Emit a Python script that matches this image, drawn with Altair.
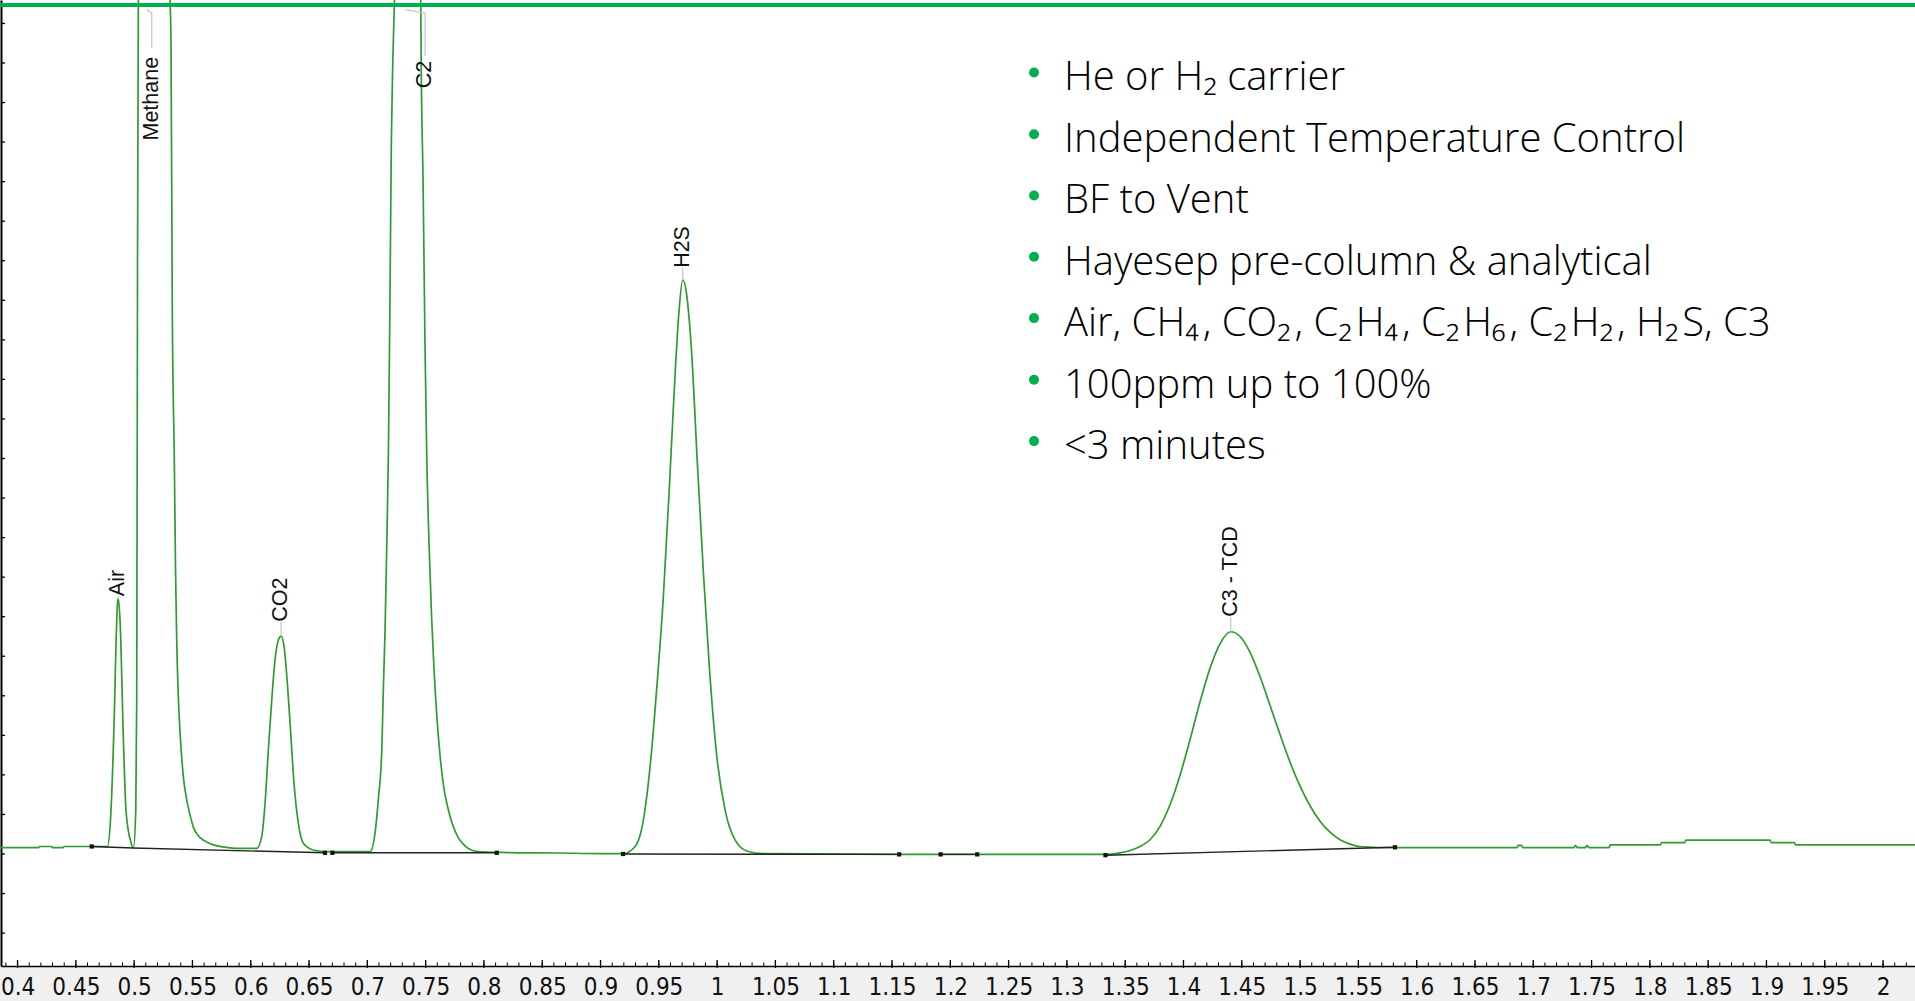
import altair as alt
import pandas as pd

# ---- canvas / scale set-up -------------------------------------------------
PLOT_W, PLOT_H = 1914, 966
X_DOMAIN = [0.3858, 2.0274]          # retention time, min
Y_DOMAIN = [-28.32, 215.93]          # detector signal

# ---- detector trace (retention time in min, signal) ------------------------
TRACE_TIME = [
    0.3858, 0.418, 0.419, 0.429, 0.430, 0.439, 0.440, 0.4770,
    0.4797, 0.4832, 0.4846, 0.4860, 0.4865, 0.4880, 0.4908, 0.4931, 0.4974, 0.4994,
    0.5014, 0.5022, 0.5029, 0.5036, 0.5170, 0.5308, 0.5316, 0.5327, 0.5345, 0.5355,
    0.5365, 0.5379, 0.5394, 0.5422, 0.5451, 0.5479, 0.5508, 0.5551, 0.5594, 0.5679,
    0.5765, 0.5908, 0.6051,
    0.6094, 0.6123, 0.6151, 0.6180, 0.6208, 0.6237, 0.6260, 0.6286, 0.6314, 0.6343,
    0.6371, 0.6408, 0.6451, 0.6537, 0.6652, 0.7023,
    0.7066, 0.7094, 0.7124, 0.7137, 0.7152, 0.7166, 0.7181, 0.7194, 0.7206, 0.7218,
    0.7233, 0.7341, 0.7458, 0.7462, 0.7478, 0.7494, 0.7510, 0.7531, 0.7551, 0.7573,
    0.7598, 0.7625, 0.7655, 0.7688, 0.7730, 0.7782, 0.7840, 0.7938, 0.8138, 0.8653,
    0.8996,
    0.9192, 0.9297, 0.9370, 0.9433, 0.9485, 0.9538, 0.9590, 0.9632, 0.9673, 0.9705,
    0.9737, 0.9779, 0.9831, 0.9883, 0.9936, 0.9998, 1.0072, 1.0155, 1.0260, 1.0396,
    1.1570, 1.3284, 1.3328, 1.3456, 1.3542, 1.3627, 1.3713, 1.3799, 1.3885, 1.3971,
    1.4057, 1.4142, 1.4228, 1.4314, 1.4405, 1.4485, 1.4571, 1.4657, 1.4742, 1.4828,
    1.4914, 1.4999, 1.5085, 1.5171, 1.5257, 1.5343, 1.5429, 1.5514, 1.5814,
    1.686, 1.687, 1.690, 1.691, 1.735, 1.736, 1.738, 1.745, 1.746, 1.748,
    1.765, 1.766, 1.809, 1.810, 1.830, 1.831, 1.903, 1.904, 1.924, 1.925, 2.0274,
]
TRACE_SIGNAL = [
    1.6, 1.6, 1.9, 1.9, 1.6, 1.6, 1.9, 1.9,
    8.6, 37.7, 54.9, 64.2, 64.5, 58.4, 28.8, 10.6, 2.8, 1.5,
    11.1, 38.9, 150.0, 216.0, 420.0, 216.0, 205.4, 138.3, 98.4, 71.8,
    54.1, 39.7, 30.6, 19.5, 13.7, 9.9, 6.8, 4.6, 3.5, 2.3,
    1.8, 1.4, 1.4,
    4.4, 12.9, 26.3, 38.9, 49.1, 54.1, 55.1, 52.4, 43.2, 30.5,
    17.9, 7.8, 2.7, 1.0, 0.6, 0.6,
    5.3, 13.7, 26.3, 41.5, 56.6, 76.9, 102.1, 140.0, 180.0, 200.0,
    216.0, 330.0, 216.0, 200.0, 170.0, 130.0, 100.0, 77.0, 60.0, 46.0,
    34.0, 24.5, 17.0, 12.0, 7.5, 4.0, 2.0, 0.7, 0.4, 0.25,
    0.1,
    0.1, 1.9, 9.0, 24.5, 43.0, 64.6, 92.4, 117.1, 137.2, 145.2,
    141.8, 127.9, 98.6, 70.8, 46.1, 24.5, 10.6, 3.5, 0.7, 0.1,
    -0.1, -0.1, -0.1, 0.3, 0.9, 1.9, 3.6, 7.0, 12.5, 20.0,
    29.0, 38.5, 47.0, 53.2, 56.2, 55.0, 51.0, 44.8, 37.6, 30.2,
    23.2, 17.2, 12.2, 8.3, 5.5, 3.6, 2.5, 1.9, 1.6,
    1.6, 2.2, 2.2, 1.6, 1.6, 2.2, 1.6, 1.6, 2.2, 1.6,
    1.6, 2.3, 2.3, 2.9, 2.9, 3.5, 3.5, 2.9, 2.9, 2.3, 2.3,
]

# ---- integration baselines (segment id, time, signal) -----------------------
BASE_SEG = [1, 1, 2, 2, 3, 3, 4, 4, 5, 5, 6, 6]
BASE_TIME = [0.4636, 0.4994, 0.4994, 0.6637, 0.6700, 0.8110,
             0.9193, 1.1561, 1.1917, 1.2231, 1.3331, 1.5814]
BASE_SIGNAL = [1.9, 1.5, 1.5, 0.3, 0.3, 0.3, 0.0, -0.1, -0.1, -0.1, -0.3, 1.7]
MARK_TIME = [0.4636, 0.6637, 0.6700, 0.8110, 0.9193, 1.1561, 1.1917, 1.2231, 1.3331, 1.5814]
MARK_SIGNAL = [1.9, 0.3, 0.3, 0.3, 0.0, -0.1, -0.1, -0.1, -0.3, 1.7]

# ---- peak names -------------------------------------------------------------
PEAK_NAMES = ["Air", "Methane", "CO2", "C2", "H2S", "C3 - TCD"]
LABEL_TIME = [0.4865, 0.5151, 0.6260, 0.7495, 0.9705, 1.4405]
LABEL_SIGNAL = [65.2, 180.4, 58.7, 193.6, 148.2, 60.0]

LEADER_PEAK = ["Air", "Air", "Methane", "Methane", "Methane", "CO2", "CO2",
               "C2", "C2", "C2", "H2S", "H2S", "C3", "C3"]
LEADER_TIME = [0.4865, 0.4865, 0.5151, 0.5151, 0.5108, 0.6260, 0.6260,
               0.7495, 0.7495, 0.7323, 0.9705, 0.9705, 1.4405, 1.4405]
LEADER_SIGNAL = [64.5, 65.2, 203.8, 212.6, 213.5, 55.1, 58.7,
                 201.8, 212.6, 213.5, 145.2, 148.2, 56.2, 60.0]

# ---- feature list -----------------------------------------------------------
HS = "\u200a"   # hair space after subscripts
FEATURES = [
    "He or H\u2082 carrier",
    "Independent Temperature Control",
    "BF to Vent",
    "Hayesep pre-column & analytical",
    f"Air, CH\u2084{HS}, CO\u2082{HS}, C\u2082{HS}H\u2084{HS}, C\u2082{HS}H\u2086{HS}, "
    f"C\u2082{HS}H\u2082{HS}, H\u2082{HS}S, C3",
    "100ppm up to 100%",
    "<3 minutes",
]
FEATURE_SIGNAL = [193.1, 177.5, 162.0, 146.5, 131.0, 115.4, 99.9]
FEATURE_TIME = 1.2975
BULLET_TIME = 1.2718
BULLET_RAISE = 4.5

# ---- axis ticks -------------------------------------------------------------
X_MAJOR = [round(0.40 + 0.05 * i, 2) for i in range(33)]
X_MINOR = [round(0.39 + 0.01 * i, 2) for i in range(164)]
Y_TICKS = list(range(-20, 220, 10))

GREEN = "#2f9c2f"
BRIGHT = "#00b050"


def xq(field="t", axis=False):
    kw = {}
    if axis:
        kw["axis"] = alt.Axis(
            values=X_MAJOR, format="~g", title=None, grid=False, ticks=False,
            labelFont="Liberation Sans Narrow, DejaVu Sans Condensed, sans-serif",
            labelFontSize=24, labelColor="#111", labelPadding=9,
            labelFlush=False, labelOverlap=False,
            domainColor="#000", domainWidth=1.5,
        )
    return alt.X(f"{field}:Q", scale=alt.Scale(domain=X_DOMAIN, nice=False, zero=False), **kw)


def yq(field="s", axis=False):
    kw = {}
    if axis:
        kw["axis"] = alt.Axis(labels=False, ticks=False, grid=False, title=None,
                              domainColor="#000", domainWidth=2)
    return alt.Y(f"{field}:Q", scale=alt.Scale(domain=Y_DOMAIN, nice=False, zero=False), **kw)


trace_df = pd.DataFrame({"t": TRACE_TIME, "s": TRACE_SIGNAL})
trace = alt.Chart(trace_df).mark_line(
    color=GREEN, strokeWidth=1.7, clip=True, interpolate="monotone"
).encode(x=xq(axis=True), y=yq(axis=True))

base_df = pd.DataFrame({"seg": BASE_SEG, "t": BASE_TIME, "s": BASE_SIGNAL,
                        "i": list(range(len(BASE_SEG)))})
baselines = alt.Chart(base_df).mark_line(color="#222", strokeWidth=1.4).encode(
    x=xq(), y=yq(), detail="seg:N", order="i:Q")

mark_df = pd.DataFrame({"t": MARK_TIME, "s": MARK_SIGNAL})
markers = alt.Chart(mark_df).mark_point(
    shape="square", size=18, filled=True, color="#111", opacity=1
).encode(x=xq(), y=yq())

lead_df = pd.DataFrame({"peak": LEADER_PEAK, "t": LEADER_TIME, "s": LEADER_SIGNAL,
                        "i": list(range(len(LEADER_PEAK)))})
leaders = alt.Chart(lead_df).mark_line(color="#c4c4c4", strokeWidth=1.2).encode(
    x=xq(), y=yq(), detail="peak:N", order="i:Q")

lab_df = pd.DataFrame({"name": PEAK_NAMES, "t": LABEL_TIME, "s": LABEL_SIGNAL})
labels = alt.Chart(lab_df).mark_text(
    angle=270, align="left", baseline="middle",
    font="Liberation Sans, Arial, sans-serif", fontSize=21.5, color="#111"
).encode(x=xq(), y=yq(), text="name:N")

feat_df = pd.DataFrame({"txt": FEATURES, "t": [FEATURE_TIME] * len(FEATURES),
                        "s": FEATURE_SIGNAL})
features = alt.Chart(feat_df).mark_text(
    align="left", baseline="alphabetic", font="Open Sans", fontSize=40,
    fontWeight=300, color="#000"
).encode(x=xq(), y=yq(), text="txt:N")

bul_df = pd.DataFrame({"t": [BULLET_TIME] * len(FEATURES),
                       "s": [v + BULLET_RAISE for v in FEATURE_SIGNAL]})
bullets = alt.Chart(bul_df).mark_point(
    shape="circle", size=100, filled=True, color=BRIGHT, opacity=1
).encode(x=xq(), y=yq())

ytick_df = pd.DataFrame({"s": Y_TICKS})
yticks = alt.Chart(ytick_df).mark_rule(color="#000", strokeWidth=1.3).encode(
    y=yq(), x=alt.value(0), x2=alt.value(4))

xmaj_df = pd.DataFrame({"t": X_MAJOR})
xmajor = alt.Chart(xmaj_df).mark_rule(color="#000", strokeWidth=1.3).encode(
    x=xq(), y=alt.value(PLOT_H - 6), y2=alt.value(PLOT_H + 2))

xmin_df = pd.DataFrame({"t": X_MINOR})
xminor = alt.Chart(xmin_df).mark_rule(color="#000", strokeWidth=1).encode(
    x=xq(), y=alt.value(PLOT_H - 3.5), y2=alt.value(PLOT_H))

top_df = pd.DataFrame({"k": [0]})
topbar = alt.Chart(top_df).mark_rule(color=BRIGHT, strokeWidth=4).encode(
    y=alt.value(5), x=alt.value(-1), x2=alt.value(PLOT_W))

chart = alt.layer(
    trace, baselines, markers, leaders, labels, features, bullets,
    yticks, xminor, xmajor, topbar,
).properties(
    width=PLOT_W, height=PLOT_H,
    autosize=alt.AutoSizeParams(type="none"),
    padding={"left": 1, "top": 0, "right": 0, "bottom": 35},
    background="#f0f0f0",
).configure_view(fill="white", stroke=None)

chart.save("out.html", embed_options={"renderer": "svg", "actions": False})
